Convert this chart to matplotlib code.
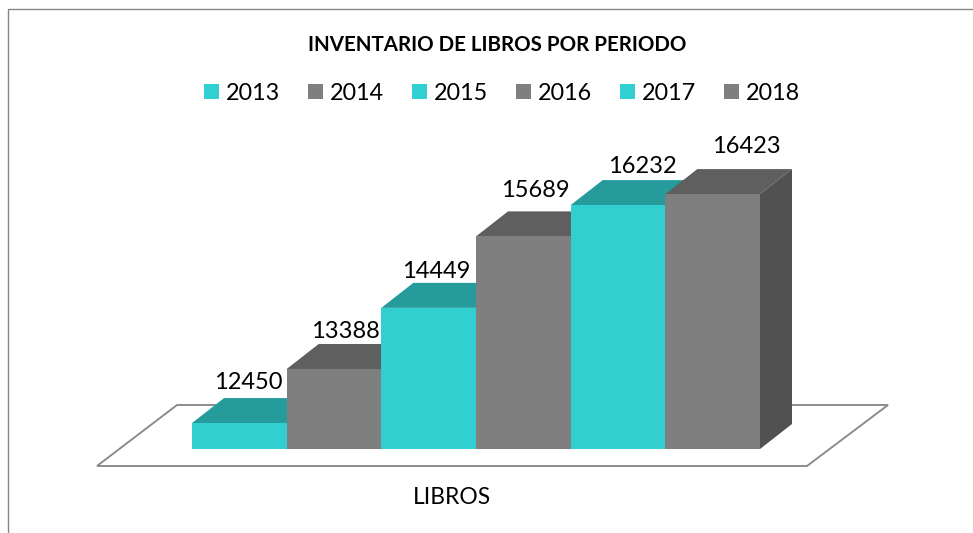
import matplotlib
matplotlib.use('Agg')
import matplotlib.pyplot as plt
from matplotlib.patches import Patch, Polygon
from matplotlib.lines import Line2D
from matplotlib.transforms import Affine2D

years = ['2013', '2014', '2015', '2016', '2017', '2018']
libros = [12450, 13388, 14449, 15689, 16232, 16423]

# nudges of the value labels, in pixels from the back edge of each bar
label_dx = [-7, -5, -8, -4, 8, 18]
label_dy = [16, 13, 11, 21, 14, 23]

W, H = 973, 533
TEAL = ['#31cfcf', '#269b9b', '#1f8080']
GREY = ['#7f7f7f', '#5f5f5f', '#515151']
depth_x, depth_y = 32, 25   # pixels

plt.rcParams['font.family'] = ['Lato', 'DejaVu Sans']
fig = plt.figure(figsize=(W/100, H/100), dpi=100)

# bars axes: baseline at y=449px, 568px wide
ymin, ymax = 12000, 18000
ax = fig.add_axes([192/W, (H-449)/H, 568/W, 345.8/H])
ax.set_xlim(0, 6)
ax.set_ylim(ymin, ymax)
ax.axis('off')

# pixel coords with the origin top left, for the frame and the floor
px = Affine2D().scale(1, -1).translate(0, H)

fig.add_artist(Line2D([8, 8, W], [H, 9, 9], color='#868686', lw=1, transform=px))
ax.add_patch(Polygon([(97, 466), (807, 466), (888, 405), (177, 405)], closed=True,
                     fc='white', ec='#8c8c8c', lw=1.4, transform=px, clip_on=False, zorder=1))

dx = depth_x/(ax.bbox.width/6)
dy = depth_y/(ax.bbox.height/(ymax-ymin))

for i, v in enumerate(libros):
    c = TEAL if i % 2 == 0 else GREY
    # top face
    ax.add_patch(Polygon([(i, v), (i+1, v), (i+1+dx, v+dy), (i+dx, v+dy)], closed=True,
                         fc=c[1], ec='none', clip_on=False, zorder=2+i))
    # side face
    ax.add_patch(Polygon([(i+1, ymin), (i+1+dx, ymin+dy), (i+1+dx, v+dy), (i+1, v)], closed=True,
                         fc=c[2], ec='none', clip_on=False, zorder=2+i))
    ax.bar(i+.5, v-ymin, width=1, bottom=ymin, color=c[0], zorder=2+i, clip_on=False)

for i, v in enumerate(libros):
    ax.annotate(str(v), (i+.5+dx/2, v+dy), xytext=(label_dx[i]*.72, label_dy[i]*.72),
                textcoords='offset points', ha='center', va='center',
                fontsize=17, color='black', zorder=20, annotation_clip=False)

fig.text(497/W, 1-45/H, 'INVENTARIO DE LIBROS POR PERIODO', ha='center', va='center',
         fontsize=14.8, fontweight='bold', color='black')
fig.text(452/W, 1-497/H, 'LIBROS', ha='center', va='center', fontsize=16.4, color='black')

handles = [Patch(fc=TEAL[0] if i % 2 == 0 else GREY[0], ec='none') for i in range(6)]
fig.legend(handles, years, ncol=6, loc='center', bbox_to_anchor=(502/W, 1-93/H), frameon=False,
           fontsize=16.8, handlelength=0.64, handleheight=0.64, handletextpad=0.3,
           columnspacing=1.2, borderpad=0, labelspacing=0)

fig.savefig('out.png', dpi=100)
